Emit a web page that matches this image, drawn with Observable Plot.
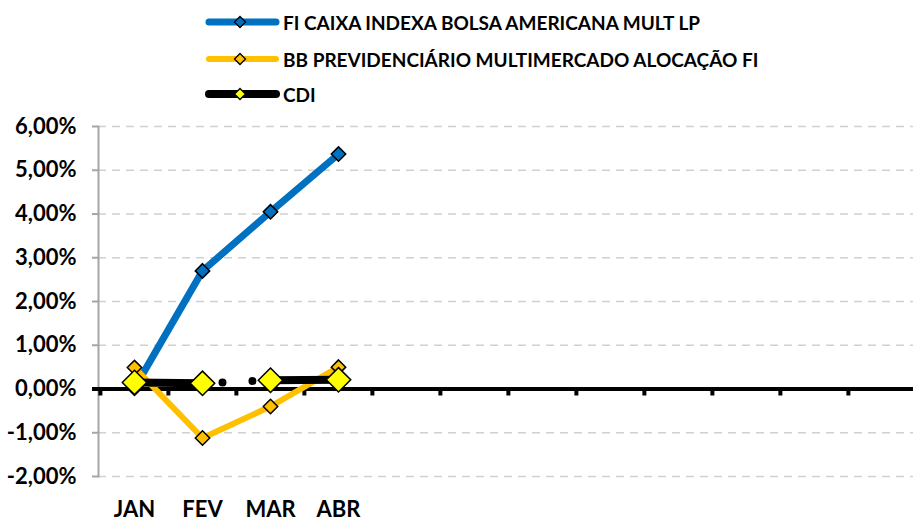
<!DOCTYPE html>
<html>
<head>
<meta charset="utf-8">
<script src="https://cdn.jsdelivr.net/npm/d3@7"></script>
<script src="https://cdn.jsdelivr.net/npm/@observablehq/plot@0.6"></script>
<style>
  html, body { margin: 0; padding: 0; background: #fff; }
  body { width: 913px; height: 521px; overflow: hidden; font-family: Lato, "Open Sans", sans-serif; }
  #legend { position: relative; height: 110px; width: 913px; }
  .item { position: absolute; left: 203px; height: 20px; display: flex; align-items: center; }
  .item span { margin-left: 0; font-weight: 700; font-size: 19px; color: #000; white-space: nowrap; }
  #chart svg { display: block; }
</style>
</head>
<body>
<div id="legend"></div>
<div id="chart"></div>
<script>
// ---- data ----
const months = ["JAN","FEV","MAR","ABR","MAI","JUN","JUL","AGO","SET","OUT","NOV","DEZ"];
const xTickLabels = ["JAN","FEV","MAR","ABR"];
const yTicks = [-2, -1, 0, 1, 2, 3, 4, 5, 6];
const seriesNames = ["FI CAIXA INDEXA BOLSA AMERICANA MULT LP", "BB PREVIDENCIÁRIO MULTIMERCADO ALOCAÇÃO FI", "CDI"];
const caixaValues = [0.02, 2.70, 4.05, 5.37];
const bbValues = [0.49, -1.12, -0.40, 0.50];
const cdiValues = [0.15, 0.13, 0.20, 0.21];

const toRows = (vals) => vals.map((v, i) => ({month: months[i], value: v}));
const caixa = toRows(caixaValues);
const bb = toRows(bbValues);
const cdi = toRows(cdiValues);

const BLUE = "#0070C0", ORANGE = "#FFC000", YELLOW = "#FFFF00";
const xRange = [98, 917];
const band = (xRange[1] - xRange[0]) / months.length;
const fmt = d => d.toFixed(2).replace(".", ",") + "%";

// ---- legend ----
const legendSpecs = [
  {name: seriesNames[0], color: BLUE, width: 7, fill: BLUE, top: 12},
  {name: seriesNames[1], color: ORANGE, width: 6, fill: ORANGE, top: 49},
  {name: seriesNames[2], color: "#000", width: 8, fill: YELLOW, top: 84}
];
const legend = document.getElementById("legend");
for (const s of legendSpecs) {
  const div = document.createElement("div");
  div.className = "item";
  div.style.top = s.top + "px";
  div.innerHTML = `<svg width="80" height="20"><line x1="6" y1="10" x2="73" y2="10" stroke="${s.color}" stroke-width="${s.width}" stroke-linecap="round"/>` +
    `<path d="M37,4.5L42.5,10L37,15.5L31.5,10Z" fill="${s.fill}" stroke="#000" stroke-width="1.3"/></svg><span>${s.name}</span>`;
  legend.appendChild(div);
}

// ---- chart ----
const plot = Plot.plot({
  width: 913,
  height: 411,
  marginTop: 16,
  marginBottom: 45,
  marginLeft: 98,
  marginRight: 0,
  style: {fontFamily: "Lato, 'Open Sans', sans-serif", overflow: "visible"},
  x: {type: "band", domain: months, range: xRange, padding: 0},
  y: {domain: [-2, 6]},
  marks: [
    Plot.gridY(yTicks, {stroke: "#d0d0d0", strokeOpacity: 1, strokeWidth: 1.3, strokeDasharray: "8,6"}),
    Plot.frame({anchor: "left", stroke: "#a6a6a6", strokeWidth: 2}),
    Plot.axisY({ticks: yTicks, tickFormat: fmt, tickSize: 6, tickPadding: 16, stroke: "#a6a6a6", strokeWidth: 2, fontSize: 22, fontWeight: 700, fill: "#000", label: null}),
    Plot.axisX({ticks: xTickLabels, tickSize: 0, tickPadding: 25, fontSize: 22, fontWeight: 700, fill: "#000", label: null}),
    Plot.ruleY([0], {stroke: "#000", strokeWidth: 4, insetLeft: -6}),
    Plot.ruleX(months, {x: d => d, y1: 0, y2: 0, dx: -band / 2, insetBottom: -7, stroke: "#000", strokeWidth: 4}),
    Plot.line(caixa, {x: "month", y: "value", stroke: BLUE, strokeWidth: 7}),
    Plot.dot(caixa, {x: "month", y: "value", symbol: "diamond2", r: 6.5, fill: BLUE, stroke: "#000", strokeWidth: 1.5}),
    Plot.line(bb, {x: "month", y: "value", stroke: ORANGE, strokeWidth: 6}),
    Plot.dot(bb, {x: "month", y: "value", symbol: "diamond2", r: 6.5, fill: ORANGE, stroke: "#000", strokeWidth: 1.5}),
    Plot.line(cdi, {x: "month", y: "value", stroke: "#000", strokeWidth: 8, strokeLinecap: "round", strokeDasharray: "67,21,0,30,0,16,100"}),
    Plot.dot(cdi, {x: "month", y: "value", symbol: "diamond2", r: 11, fill: YELLOW, stroke: "#000", strokeWidth: 1.5})
  ]
});
document.getElementById("chart").appendChild(plot);
</script>
</body>
</html>
